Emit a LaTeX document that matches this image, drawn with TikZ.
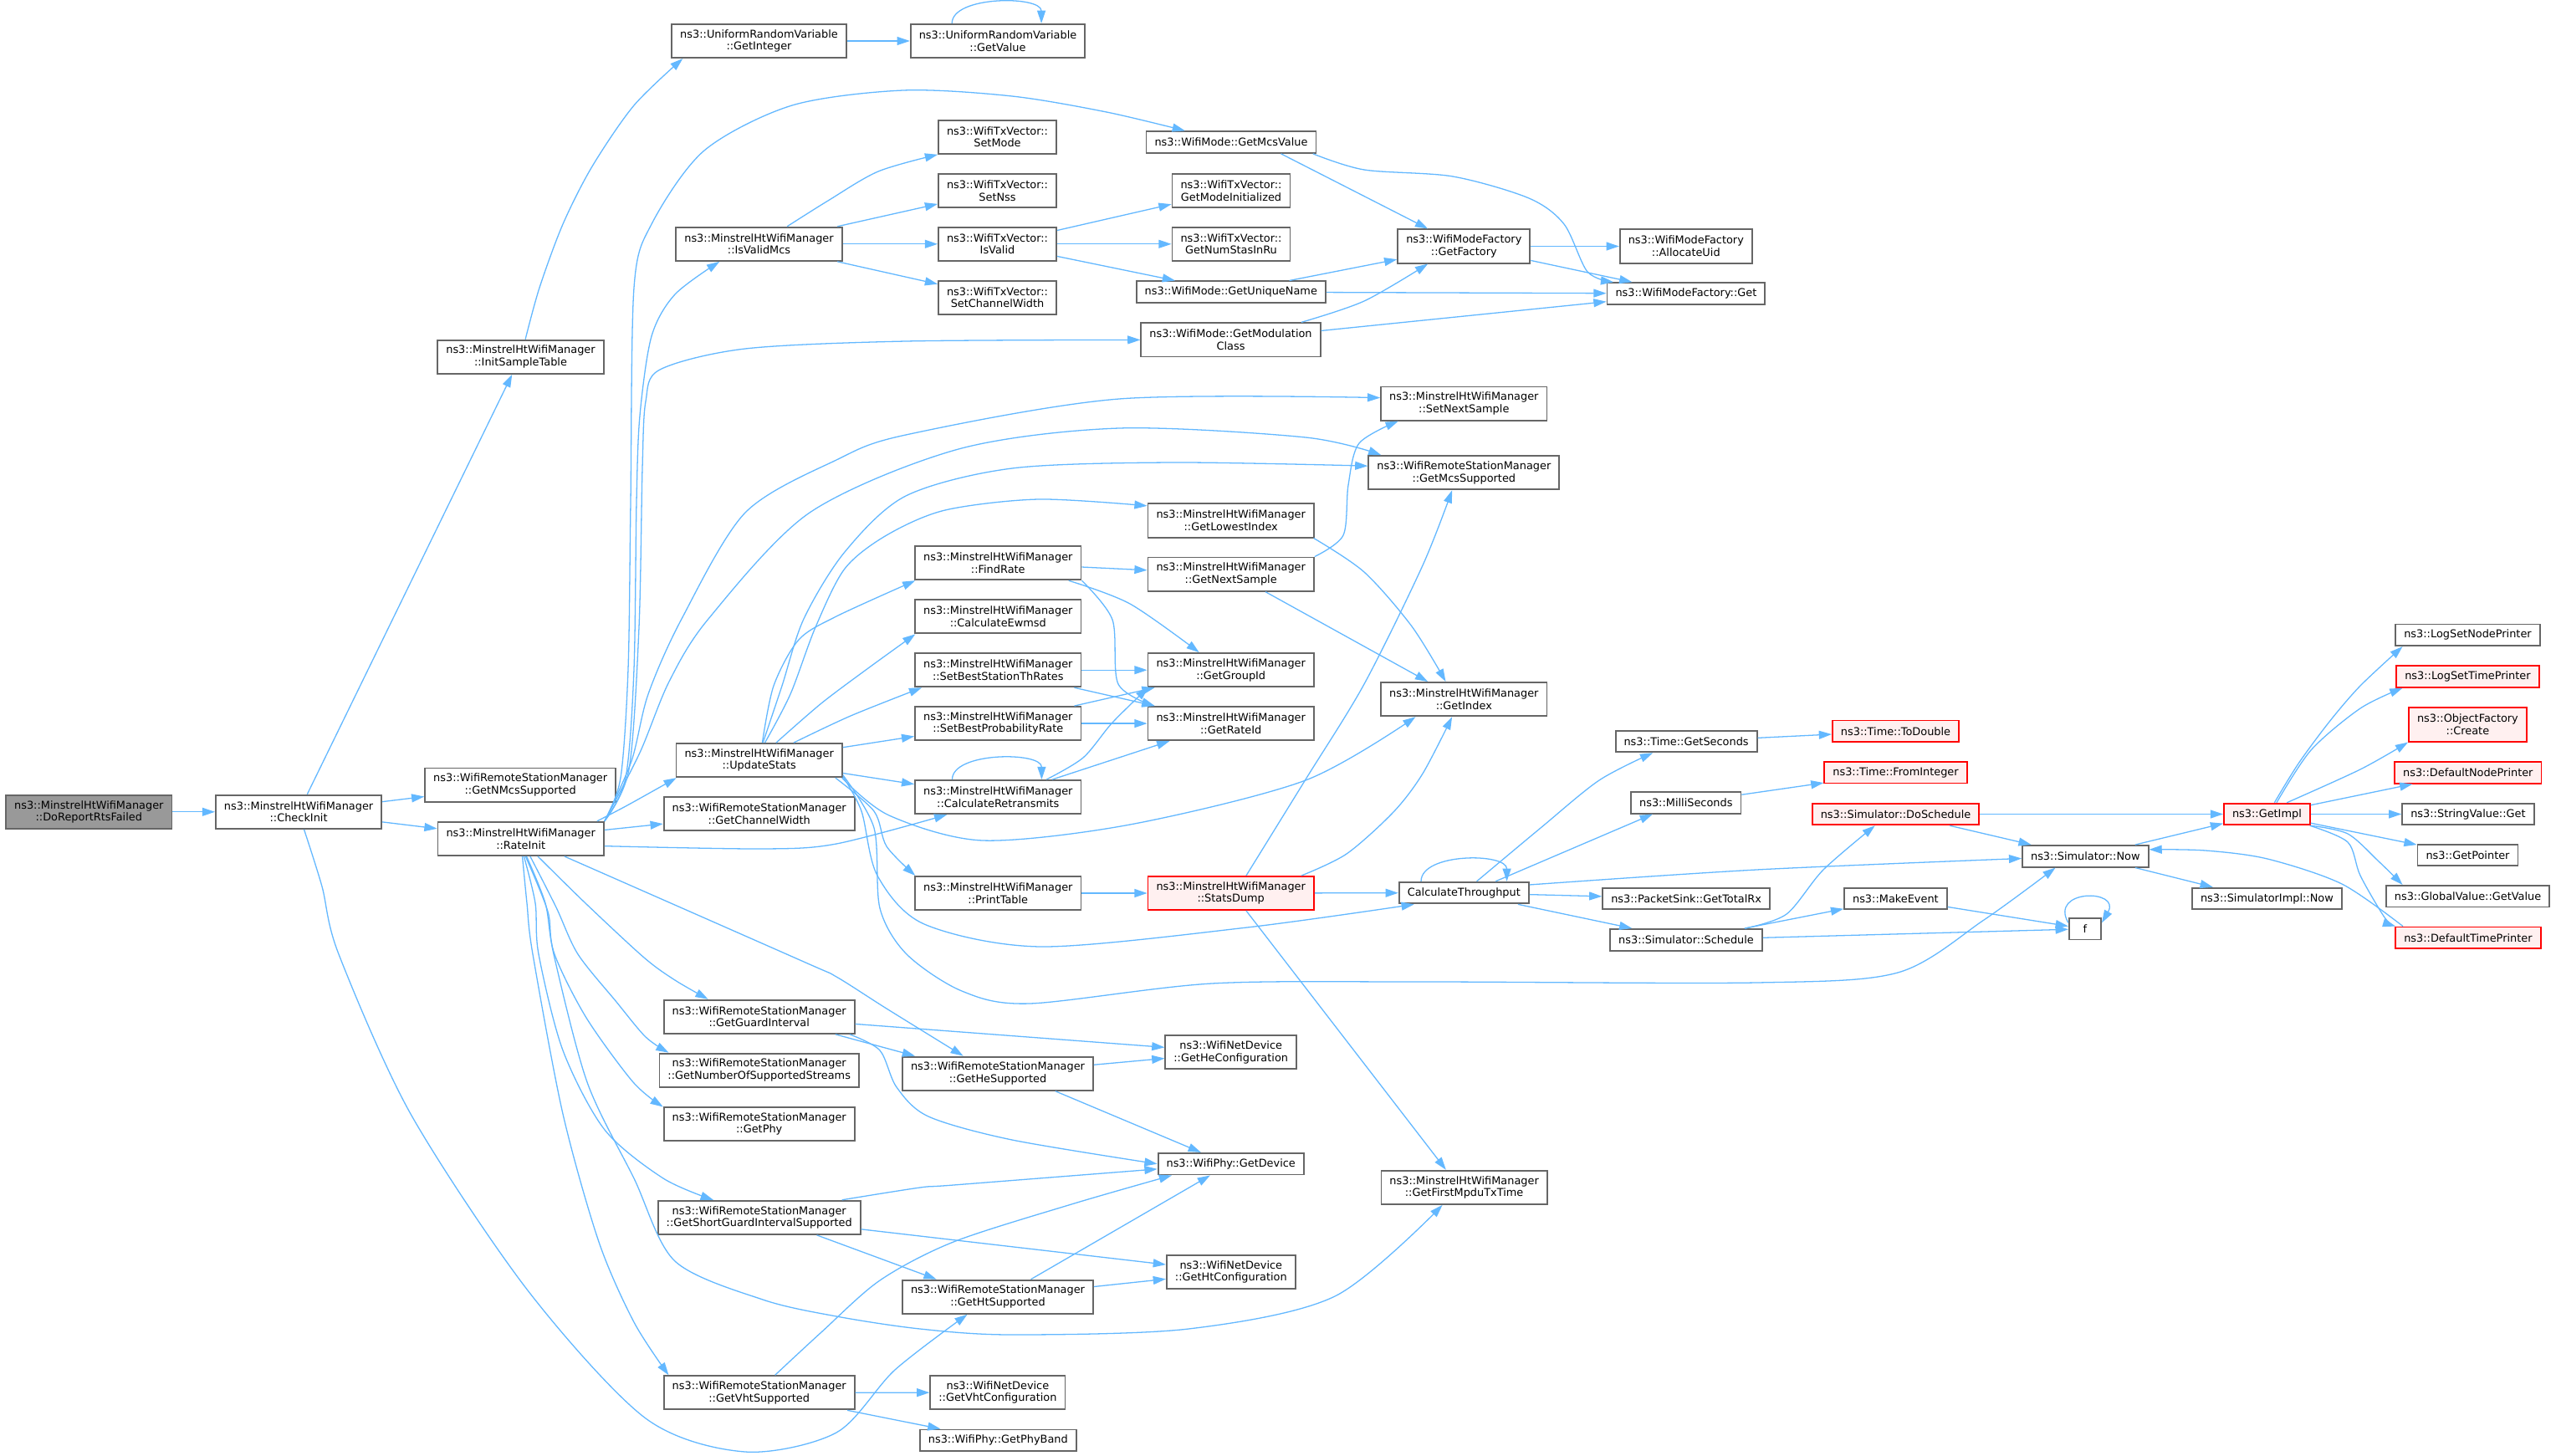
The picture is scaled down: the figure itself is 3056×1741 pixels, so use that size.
\documentclass[tikz,border=0pt]{standalone}
\usepackage{fontspec}
\setmainfont{DejaVu Sans}
\usepackage{tikz}
\usetikzlibrary{arrows.meta}
\definecolor{edgeblue}{HTML}{63B8FF}
\definecolor{boxgray}{HTML}{666666}
\definecolor{rootgray}{HTML}{999999}
\definecolor{hlred}{HTML}{FF0000}
\definecolor{hlfill}{HTML}{FFF0F0}
\tikzset{>/.tip={Triangle[length=13pt,width=8.5pt]},
  fn/.style={draw=boxgray, line width=1.6pt, fill=white, align=center, font=\fontsize{11}{12.5}\selectfont,
    inner xsep=0.3cm, inner ysep=0pt, minimum height=0.768cm},
  two/.style={minimum height=1.206cm},
  root/.style={fill=rootgray},
  hl/.style={draw=hlred, fill=hlfill},
  call/.style={->, draw=edgeblue, line width=1.1pt}}

\begin{document}
\begin{tikzpicture}[x=0.03cm, y=-0.03cm, every edge/.style={call}]
\path[use as bounding box, fill=white] (0,0) rectangle (3056,1741);

\node[fn,two,root] (DoReport) at (106.3,970.8) {ns3::MinstrelHtWifiManager\\::DoReportRtsFailed};
\node[fn,two] (CheckInit) at (357.1,970.8) {ns3::MinstrelHtWifiManager\\::CheckInit};
\node[fn,two] (GetInteger) at (907.5,49) {ns3::UniformRandomVariable\\::GetInteger};
\node[fn,two] (GetValue) at (1193,49) {ns3::UniformRandomVariable\\::GetValue};
\node[fn,two] (InitSample) at (622.5,426.7) {ns3::MinstrelHtWifiManager\\::InitSampleTable};
\node[fn,two] (GetNMcs) at (622.2,938.6) {ns3::WifiRemoteStationManager\\::GetNMcsSupported};
\node[fn,two] (RateInit) at (622.7,1002.9) {ns3::MinstrelHtWifiManager\\::RateInit};
\node[fn,two] (IsValidMcs) at (907.5,291.8) {ns3::MinstrelHtWifiManager\\::IsValidMcs};
\node[fn,two] (SetMode) at (1192.5,163.8) {ns3::WifiTxVector::\\SetMode};
\node[fn,two] (SetNss) at (1192.5,227.9) {ns3::WifiTxVector::\\SetNss};
\node[fn,two] (IsValid) at (1192.5,291.8) {ns3::WifiTxVector::\\IsValid};
\node[fn,two] (SetChWidth) at (1192.5,355.7) {ns3::WifiTxVector::\\SetChannelWidth};
\node[fn] (McsValue) at (1472,170.1) {ns3::WifiMode::GetMcsValue};
\node[fn,two] (ModeInit) at (1472,227.9) {ns3::WifiTxVector::\\GetModeInitialized};
\node[fn,two] (NumStas) at (1472,291.8) {ns3::WifiTxVector::\\GetNumStasInRu};
\node[fn] (UniqueName) at (1471.8,349.2) {ns3::WifiMode::GetUniqueName};
\node[fn,two] (ModClass) at (1471.5,406.4) {ns3::WifiMode::GetModulation\\Class};
\node[fn,two] (Factory) at (1750.3,294.5) {ns3::WifiModeFactory\\::GetFactory};
\node[fn,two] (AllocUid) at (2015.8,294.5) {ns3::WifiModeFactory\\::AllocateUid};
\node[fn] (FactoryGet) at (2015.9,351) {ns3::WifiModeFactory::Get};
\node[fn,two] (NextSampleSet) at (1750.3,482.6) {ns3::MinstrelHtWifiManager\\::SetNextSample};
\node[fn,two] (McsSupported) at (1750.3,565.2) {ns3::WifiRemoteStationManager\\::GetMcsSupported};
\node[fn,two] (LowestIndex) at (1471.7,622.5) {ns3::MinstrelHtWifiManager\\::GetLowestIndex};
\node[fn,two] (FindRate) at (1193.3,673.2) {ns3::MinstrelHtWifiManager\\::FindRate};
\node[fn,two] (NextSample) at (1471.7,686.6) {ns3::MinstrelHtWifiManager\\::GetNextSample};
\node[fn,two] (Ewmsd) at (1193.3,737.3) {ns3::MinstrelHtWifiManager\\::CalculateEwmsd};
\node[fn,two] (BestTh) at (1193.3,801.2) {ns3::MinstrelHtWifiManager\\::SetBestStationThRates};
\node[fn,two] (GroupId) at (1471.7,801.2) {ns3::MinstrelHtWifiManager\\::GetGroupId};
\node[fn,two] (Index) at (1750.3,836.1) {ns3::MinstrelHtWifiManager\\::GetIndex};
\node[fn,two] (BestProb) at (1193.3,865.1) {ns3::MinstrelHtWifiManager\\::SetBestProbabilityRate};
\node[fn,two] (RateId) at (1471.7,865.1) {ns3::MinstrelHtWifiManager\\::GetRateId};
\node[fn,two] (UpdateStats) at (907.7,909.1) {ns3::MinstrelHtWifiManager\\::UpdateStats};
\node[fn,two] (Retrans) at (1193.3,953.1) {ns3::MinstrelHtWifiManager\\::CalculateRetransmits};
\node[fn,two] (ChWidth) at (907.7,973.1) {ns3::WifiRemoteStationManager\\::GetChannelWidth};
\node[fn] (Seconds) at (2016.1,886.5) {ns3::Time::GetSeconds};
\node[fn] (Milli) at (2015.8,959.8) {ns3::MilliSeconds};
\node[fn,two] (PrintTable) at (1193.3,1068) {ns3::MinstrelHtWifiManager\\::PrintTable};
\node[fn,two,hl] (StatsDump) at (1471.7,1068) {ns3::MinstrelHtWifiManager\\::StatsDump};
\node[fn] (Thru) at (1750.3,1067.6) {CalculateThroughput};
\node[fn] (TotalRx) at (2016.1,1074.4) {ns3::PacketSink::GetTotalRx};
\node[fn] (Schedule) at (2016,1123.8) {ns3::Simulator::Schedule};
\node[fn,hl] (ToDouble) at (2266.5,874.3) {ns3::Time::ToDouble};
\node[fn,hl] (FromInt) at (2266.5,923.7) {ns3::Time::FromInteger};
\node[fn,hl] (DoSchedule) at (2266.5,973.5) {ns3::Simulator::DoSchedule};
\node[fn] (MakeEvent) at (2266.4,1074.5) {ns3::MakeEvent};
\node[fn] (Now) at (2493.3,1023.8) {ns3::Simulator::Now};
\node[fn,minimum width=1.146cm] (f) at (2492.9,1110.7) {f};
\node[fn] (ImplNow) at (2710.4,1074.5) {ns3::SimulatorImpl::Now};
\node[fn,hl] (GetImpl) at (2710.4,973.5) {ns3::GetImpl};
\node[fn] (NodePrinter) at (2950.5,759.3) {ns3::LogSetNodePrinter};
\node[fn,hl] (TimePrinter) at (2950.4,809) {ns3::LogSetTimePrinter};
\node[fn,two,hl] (Create) at (2950.4,866.5) {ns3::ObjectFactory\\::Create};
\node[fn,hl] (DefNode) at (2950.8,923.8) {ns3::DefaultNodePrinter};
\node[fn] (StrGet) at (2950.9,973.5) {ns3::StringValue::Get};
\node[fn] (Pointer) at (2950.5,1022.5) {ns3::GetPointer};
\node[fn] (GlobalGet) at (2950.5,1071.7) {ns3::GlobalValue::GetValue};
\node[fn,hl] (DefTime) at (2950.9,1121.3) {ns3::DefaultTimePrinter};
\node[fn,two] (Guard) at (907.7,1215.8) {ns3::WifiRemoteStationManager\\::GetGuardInterval};
\node[fn,two] (Streams) at (907.7,1279.7) {ns3::WifiRemoteStationManager\\::GetNumberOfSupportedStreams};
\node[fn,two] (Phy) at (907.7,1343.8) {ns3::WifiRemoteStationManager\\::GetPhy};
\node[fn,two] (ShortGi) at (907.7,1455.8) {ns3::WifiRemoteStationManager\\::GetShortGuardIntervalSupported};
\node[fn,two] (VhtSupp) at (907.7,1665.3) {ns3::WifiRemoteStationManager\\::GetVhtSupported};
\node[fn,two] (HeSupp) at (1193,1283.7) {ns3::WifiRemoteStationManager\\::GetHeSupported};
\node[fn,two] (HeConf) at (1471.7,1258.3) {ns3::WifiNetDevice\\::GetHeConfiguration};
\node[fn] (Device) at (1471.7,1391.7) {ns3::WifiPhy::GetDevice};
\node[fn,two] (FirstMpdu) at (1750.6,1419.8) {ns3::MinstrelHtWifiManager\\::GetFirstMpduTxTime};
\node[fn,two] (HtConf) at (1471.8,1521.1) {ns3::WifiNetDevice\\::GetHtConfiguration};
\node[fn,two] (HtSupp) at (1193,1550.7) {ns3::WifiRemoteStationManager\\::GetHtSupported};
\node[fn,two] (VhtConf) at (1192.9,1665.1) {ns3::WifiNetDevice\\::GetVhtConfiguration};
\node[fn] (PhyBand) at (1193.3,1722.3) {ns3::WifiPhy::GetPhyBand};

\path (DoReport) edge (CheckInit);
\path (CheckInit) edge (InitSample) edge (GetNMcs) edge (RateInit);
\draw[call] plot[smooth] coordinates {(CheckInit.-73) (385,1060) (405,1141) (491,1332) (631,1543) (772,1696) (891,1736) (1000,1713) (1070,1638) (HtSupp.-150)};
\draw[call] plot[smooth] coordinates {(InitSample.75) (645,344) (673,268) (708,199) (758,126) (GetInteger.-167)};
\path (GetInteger) edge (GetValue);
\path (GetValue.159) edge[out=90,in=90,looseness=0.8] (GetValue.22);

\draw[call] plot[smooth] coordinates {(RateInit.north east) (742,930) (751,800) (754,600) (758,344) (779,268) (842,180) (947,126) (1080,108) (1210,115) (1323,134) (McsValue.166)};
\draw[call] plot[smooth] coordinates {(RateInit.north east) (748,930) (758,800) (761,600) (765,497) (779,402) (807,352) (IsValidMcs.-156)};
\draw[call] plot[smooth] coordinates {(RateInit.north east) (752,920) (764,750) (768,560) (772,480) (789,442) (891,417) (1083,408) (ModClass.west)};
\draw[call] plot[smooth] coordinates {(RateInit.north east) (755,910) (775,830) (815,740) (891,613) (1000,550) (1083,520) (1338,477) (NextSampleSet.176)};
\draw[call] plot[smooth] coordinates {(RateInit.north east) (765,900) (800,815) (847,740) (968,613) (1146,537) (1338,512) (1561,523) (McsSupported.168)};
\draw[call] plot[smooth] coordinates {(RateInit.13) (750,963) (UpdateStats.-168)};
\path (RateInit) edge (ChWidth);
\draw[call] plot[smooth] coordinates {(RateInit.-5) (912,1015) (1000,1009) (Retrans.-161)};
\draw[call] plot[smooth] coordinates {(RateInit.-22) (961,1150) (1000,1168) (1060,1206) (HeSupp.153)};
\draw[call] plot[smooth] coordinates {(RateInit.-46) (700,1080) (770,1145) (807,1172) (Guard.161)};
\draw[call] plot[smooth] coordinates {(RateInit.-62) (665,1085) (691,1141) (737,1198) (772,1240) (Streams.169)};
\draw[call] plot[smooth] coordinates {(RateInit.-72) (652,1080) (663,1141) (701,1217) (757,1294) (Phy.170)};
\draw[call] plot[smooth] coordinates {(RateInit.-80) (640,1080) (644,1141) (673,1256) (723,1351) (793,1409) (ShortGi.159)};
\draw[call] plot[smooth] coordinates {(RateInit.-85) (630,1080) (637,1141) (673,1332) (716,1485) (758,1581) (VhtSupp.169)};
\draw[call] plot[smooth] coordinates {(RateInit.-75) (655,1090) (662,1141) (702,1294) (758,1409) (807,1508) (912,1554) (1000,1574) (1100,1589) (1210,1596) (1421,1589) (1596,1550) (FirstMpdu.-141)};

\draw[call] plot[smooth] coordinates {(IsValidMcs.32) (990,240) (1050,205) (SetMode.south west)};
\path (IsValidMcs) edge (SetNss) edge (IsValid) edge (SetChWidth);
\path (IsValid) edge (ModeInit) edge (NumStas) edge (UniqueName);
\path (UniqueName) edge (Factory) edge (FactoryGet);
\path (McsValue.-13) edge (Factory.154);
\draw[call] plot[smooth] coordinates {(McsValue.-8) (1631,203) (1737,211) (1828,237) (1870,268) (1898,325) (FactoryGet.171)};
\draw[call] plot[smooth] coordinates {(ModClass.14) (1631,360) (Factory.-154)};
\path (ModClass) edge (FactoryGet);
\path (Factory) edge (AllocUid) edge (FactoryGet);

\draw[call] plot[smooth] coordinates {(UpdateStats.78) (935,820) (961,740) (1010,660) (1083,593) (1210,560) (1401,553) (McsSupported.176)};
\draw[call] plot[smooth] coordinates {(UpdateStats.72) (945,830) (975,750) (1010,680) (1060,640) (1130,610) (1242,597) (LowestIndex.170)};
\draw[call] plot[smooth] coordinates {(UpdateStats.80) (925,820) (955,765) (1000,737) (FindRate.-168)};
\draw[call] plot[smooth] coordinates {(UpdateStats.46) (982,841) (1038,799) (Ewmsd.-168)};
\draw[call] plot[smooth] coordinates {(UpdateStats.27) (1017,856) (BestTh.-167)};
\path (UpdateStats) edge (BestProb) edge (Retrans);
\draw[call] plot[smooth] coordinates {(UpdateStats.-12) (1063,975) (1175,1005) (1351,986) (1561,933) (Index.-160)};
\draw[call] plot[smooth] coordinates {(UpdateStats.-11) (1030,970) (1049,1047) (1105,1105) (1245,1132) (1491,1109) (Thru.-167)};
\draw[call] plot[smooth] coordinates {(UpdateStats.-13) (1045,970) (1060,1012) (PrintTable.168)};
\draw[call] plot[smooth] coordinates {(UpdateStats.-10) (1045,990) (1052,1086) (1084,1141) (1150,1185) (1231,1200) (1449,1176) (1700,1174) (2100,1175) (2269,1163) (2372,1100) (Now.-159)};

\path (FindRate) edge (NextSample);
\draw[call] plot[smooth] coordinates {(FindRate.-14) (1351,722) (GroupId.151)};
\draw[call] plot[smooth] coordinates {(FindRate.south east) (1330,741) (1337,818) (RateId.167)};
\draw[call] plot[smooth] coordinates {(NextSample.north east) (1606,640) (1612,580) (1625,530) (NextSampleSet.-165)};
\path (NextSample.-27) edge (Index.154);
\draw[call] plot[smooth] coordinates {(LowestIndex.-12) (1631,684) (1688,749) (Index.136)};
\path (BestTh) edge (GroupId);
\path (BestTh.-13) edge (RateId.167);
\path (BestProb.13) edge (GroupId.-167);
\path (BestProb) edge (RateId);
\draw[call] plot[smooth] coordinates {(Retrans.20) (1295,906) (1330,864) (GroupId.-168)};
\path (Retrans.18) edge (RateId.-164);
\path (Retrans.159) edge[out=90,in=90,looseness=0.8] (Retrans.22);
\path (PrintTable) edge (StatsDump);
\path (StatsDump) edge (Thru);
\draw[call] plot[smooth] coordinates {(StatsDump.49) (1561,932) (1631,818) (1701,676) (McsSupported.-124)};
\draw[call] plot[smooth] coordinates {(StatsDump.14) (1610,1021) (1666,971) (1701,925) (Index.-124)};
\path (StatsDump.-49) edge (FirstMpdu.136);

\path (Thru.165) edge[out=90,in=90,looseness=0.86] (Thru.15);
\draw[call] plot[smooth] coordinates {(Thru.42) (1842,990) (1912,933) (Seconds.-161)};
\path (Thru.20) edge (Milli.-161);
\path (Thru) edge (TotalRx);
\path (Thru.-12) edge (Schedule.168);
\draw[call] plot[smooth] coordinates {(Thru.7) (2100,1040) (Now.-178)};
\path (Seconds) edge (ToDouble);
\path (Milli) edge (FromInt);
\draw[call] plot[smooth] coordinates {(Schedule.11) (2136,1093) (2180,1040) (DoSchedule.-151)};
\path (Schedule) edge (MakeEvent) edge (f);
\path (MakeEvent) edge (f);
\path (f.160) edge[out=120,in=60,looseness=3] (f.20);
\path (DoSchedule) edge (GetImpl);
\path (DoSchedule.-12) edge (Now.168);
\path (Now.13) edge (GetImpl.-168);
\path (Now.-13) edge (ImplNow.168);

\draw[call] plot[smooth] coordinates {(GetImpl.57) (2748,913) (2785,863) (2822,820) (NodePrinter.-170)};
\draw[call] plot[smooth] coordinates {(GetImpl.50) (2763,897) (2822,847) (TimePrinter.-170)};
\draw[call] plot[smooth] coordinates {(GetImpl.30) (2822,920) (Create.south west)};
\path (GetImpl) edge (DefNode) edge (StrGet) edge (Pointer);
\draw[call] plot[smooth] coordinates {(GetImpl.south east) (2807,997) (2844,1030) (GlobalGet.170)};
\draw[call] plot[smooth] coordinates {(GetImpl.-15) (2807,1007) (2822,1047) (2851,1097) (DefTime.171)};
\draw[call] plot[smooth] coordinates {(DefTime.170) (2800,1057) (2711,1027) (2637,1017) (Now.6)};

\path (Guard) edge (HeConf);
\path (Guard.-13) edge (HeSupp.168);
\draw[call] plot[smooth] coordinates {(Guard.-11) (1052,1256) (1072,1300) (1110,1335) (1210,1363) (Device.west)};
\path (HeSupp) edge (HeConf);
\path (HeSupp.-17) edge (Device.159);
\draw[call] plot[smooth] coordinates {(ShortGi.12) (1100,1420) (1140,1417) (Device.-176)};
\path (ShortGi) edge (HtConf);
\path (ShortGi.-17) edge (HtSupp.164);
\path (HtSupp) edge (HtConf);
\path (HtSupp.28) edge (Device.-151);
\draw[call] plot[smooth] coordinates {(VhtSupp.48) (982,1593) (1052,1531) (1140,1485) (1281,1440) (Device.-169)};
\path (VhtSupp) edge (VhtConf) edge (PhyBand);
\end{tikzpicture}
\end{document}
